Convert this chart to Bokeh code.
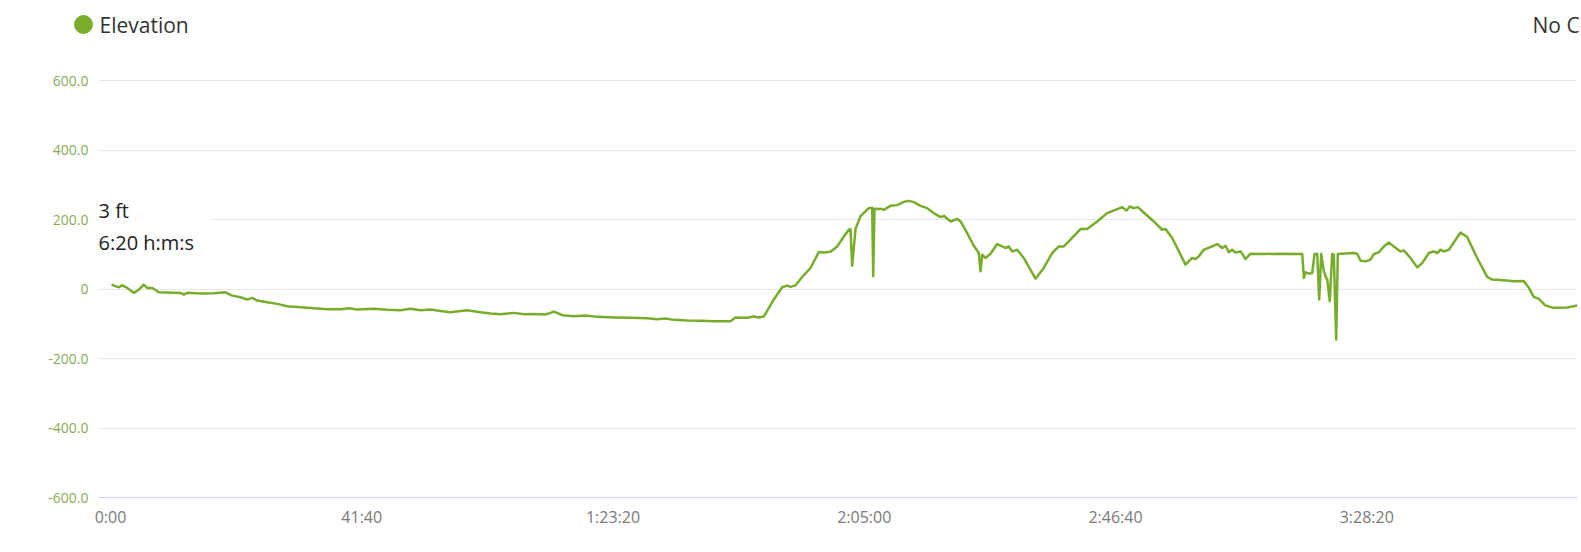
from bokeh.plotting import figure
from bokeh.models import FixedTicker, Label, BoxAnnotation, ColumnDataSource, Range1d
from bokeh.layouts import column
from bokeh.core.properties import value
from bokeh.embed import file_html
from bokeh.resources import INLINE

# ---- data (time in seconds, elevation in ft) ----
time_s = [10, 83, 116, 166, 232, 282, 331, 365, 415, 481, 564, 697, 729, 763, 896, 1028, 1144, 1211, 1294,
          1360, 1410, 1460, 1559, 1659, 1758, 1891, 2023, 2156, 2289, 2371, 2455, 2620, 2753, 2886, 2985,
          3085, 3184, 3284, 3383, 3466, 3549, 3682, 3781, 3881, 4013, 4113, 4212, 4328, 4378, 4411, 4445,
          4494, 4610, 4726, 4843, 5008, 5174, 5340, 5440, 5522, 5605, 5738, 5871, 6003, 6169, 6219, 6335,
          6401, 6451, 6500, 6600, 6683, 6733, 6766, 6816, 6883, 6965, 7048, 7098, 7164, 7231, 7297, 7346,
          7363, 7380, 7413, 7463, 7545, 7579, 7589, 7602, 7679, 7695, 7761, 7828, 7894, 7943, 7993, 8060,
          8126, 8192, 8259, 8292, 8358, 8425, 8458, 8524, 8590, 8640, 8657, 8674, 8706, 8756, 8823, 8873,
          8905, 8938, 8972, 9022, 9087, 9204, 9286, 9370, 9436, 9486, 9552, 9652, 9718, 9818, 9917, 10017,
          10066, 10109, 10142, 10182, 10222, 10281, 10381, 10464, 10498, 10564, 10697, 10763, 10796, 10829,
          10879, 10962, 11012, 11062, 11095, 11127, 11161, 11194, 11244, 11294, 11343, 11476, 11642, 11858,
          11874, 11891, 11924, 11957, 11980, 12007, 12027, 12047, 12073, 12090, 12107, 12132, 12156, 12172,
          12196, 12212, 12371, 12405, 12438, 12488, 12537, 12570, 12620, 12670, 12720, 12769, 12836, 12869,
          12935, 13002, 13052, 13118, 13167, 13201, 13234, 13267, 13317, 13366, 13433, 13499, 13599, 13698,
          13748, 13864, 13963, 14063, 14113, 14162, 14212, 14279, 14361, 14494, 14594]
elevation_ft = [12.6, 4.9, 10.6, 3.0, -11.0, -2.0, 12.6, 3.0, 3.0, -9.5, -10.3, -11.2, -16.0, -11.0, -13.0,
                -12.3, -9.5, -19.0, -23.7, -30.4, -25.6, -33.3, -38.0, -42.8, -49.6, -52.5, -55.4, -58.3,
                -58.3, -55.4, -59.0, -57.0, -60.0, -61.0, -57.0, -61.0, -59.0, -63.0, -67.0, -64.0, -61.0,
                -67.0, -70.6, -72.5, -68.7, -72.5, -71.6, -73.5, -68.7, -64.9, -68.7, -75.4, -78.3, -76.4,
                -80.2, -82.1, -83.0, -84.0, -87.0, -85.0, -88.8, -90.7, -91.6, -92.6, -92.6, -82.1, -83.0,
                -79.2, -82.1, -79.2, -30.4, 4.9, 9.8, 6.0, 10.6, 34.7, 60.5, 106.5, 105.3, 107.3, 122.5,
                151.2, 170.5, 172.5, 67.0, 172.5, 210.0, 232.7, 233.6, 36.5, 230.7, 229.9, 227.9, 239.4,
                241.4, 250.8, 253.7, 250.0, 239.4, 232.7, 218.4, 206.9, 210.7, 194.3, 202.0, 194.3, 161.0,
                124.6, 103.6, 50.8, 98.7, 89.3, 101.6, 129.4, 122.5, 118.0, 122.5, 108.2, 113.0, 89.3, 29.8,
                60.5, 103.6, 122.5, 122.5, 141.8, 172.5, 172.5, 194.3, 218.4, 229.9, 235.6, 225.9, 237.4,
                232.7, 235.6, 220.1, 194.3, 170.5, 172.5, 146.7, 70.0, 89.3, 86.4, 93.9, 113.0, 122.5, 129.4,
                118.0, 124.6, 106.0, 113.0, 105.3, 108.2, 86.4, 101.6, 100.7, 101.6, 100.7, 31.9, 47.9, 44.2,
                46.1, 100.7, 100.7, -30.4, 100.7, 50.8, 36.5, 27.0, -35.3, 100.7, 98.7, -145.0, 100.7, 103.6,
                101.6, 81.5, 79.5, 84.4, 100.7, 105.3, 122.5, 134.0, 122.5, 108.2, 111.0, 89.3, 62.3, 74.9,
                103.6, 108.2, 103.6, 113.0, 108.2, 113.0, 134.0, 162.7, 149.5, 89.3, 34.7, 27.0, 25.0, 22.1,
                23.2, 3.2, -22.7, -28.4, -47.6, -54.2, -53.4, -47.6]

y_ticks = [-600, -400, -200, 0, 200, 400, 600]
y_tick_labels = ["-600.0", "-400.0", "-200.0", "0", "200.0", "400.0", "600.0"]
x_ticks = [0, 2500, 5000, 7500, 10000, 12500]
x_tick_labels = ["0:00", "41:40", "1:23:20", "2:05:00", "2:46:40", "3:28:20"]

legend_names = ["Elevation", "No C"]
tooltip_lines = ["3 ft", "6:20 h:m:s"]

GREEN = "#78ad2c"
W = 1579
TOP_H = 56

# ---- legend strip (pixel coordinates, y downwards) ----
top = figure(width=W, height=TOP_H, output_backend="svg", toolbar_location=None,
             x_range=Range1d(0, W), y_range=Range1d(TOP_H, 0),
             x_axis_type=None, y_axis_type=None, min_border=0)
top.frame_align = False
top.outline_line_color = None
top.grid.grid_line_color = None
top.scatter(x=[83], y=[24], size=18, marker="circle", fill_color=GREEN, line_color=GREEN)
top.text(x=[99, 1532], y=[24, 24], text=legend_names, text_font=value("Open Sans"),
         text_font_size="21px", text_color="#333333", text_baseline="middle", text_align="left")

# ---- main chart ----
p = figure(width=W, height=494, output_backend="svg", toolbar_location=None,
           x_range=Range1d(-119.4, 14597), y_range=Range1d(-600, 602.9),
           min_border_left=98, min_border_right=2, min_border_top=23, min_border_bottom=53)
p.frame_align = False
p.outline_line_color = None

src = ColumnDataSource(dict(t=time_s, e=elevation_ft))
p.line("t", "e", source=src, line_color=GREEN, line_width=2.5, line_join="round")

p.xgrid.grid_line_color = None
p.ygrid.ticker = FixedTicker(ticks=y_ticks)
p.ygrid.grid_line_color = "#e6e6e6"
p.ygrid.grid_line_width = 1

p.yaxis.ticker = FixedTicker(ticks=y_ticks)
p.yaxis.major_label_overrides = dict(zip(y_ticks, y_tick_labels))
p.yaxis.axis_line_color = None
p.yaxis.major_tick_line_color = None
p.yaxis.minor_tick_line_color = None
p.yaxis.major_tick_out = 0
p.yaxis.minor_tick_out = 0
p.yaxis.major_label_standoff = 10
p.yaxis.major_label_text_color = "#8aab57"
p.yaxis.major_label_text_font = "Open Sans"
p.yaxis.major_label_text_font_size = "14px"

p.xaxis.ticker = FixedTicker(ticks=x_ticks)
p.xaxis.major_label_overrides = dict(zip(x_ticks, x_tick_labels))
p.xaxis.axis_line_color = "#ccd6eb"
p.xaxis.major_tick_line_color = None
p.xaxis.minor_tick_line_color = None
p.xaxis.major_tick_out = 0
p.xaxis.minor_tick_out = 0
p.xaxis.major_label_standoff = 8
p.xaxis.major_label_text_color = "#7a7a7a"
p.xaxis.major_label_text_font = "Open Sans"
p.xaxis.major_label_text_font_size = "16px"

# tooltip box
p.add_layout(BoxAnnotation(left=-150, right=1010, top=270, bottom=95, fill_color="white",
                           fill_alpha=1.0, line_color=None))
p.add_layout(Label(x=-119.4, y=227, text=tooltip_lines[0], text_font="Open Sans", text_font_size="20px",
                   text_color="#222222", text_baseline="middle"))
p.add_layout(Label(x=-119.4, y=135, text=tooltip_lines[1], text_font="Open Sans", text_font_size="20px",
                   text_color="#222222", text_baseline="middle"))

layout = column(top, p, spacing=0)
open("out.html", "w").write(file_html(layout, INLINE))
